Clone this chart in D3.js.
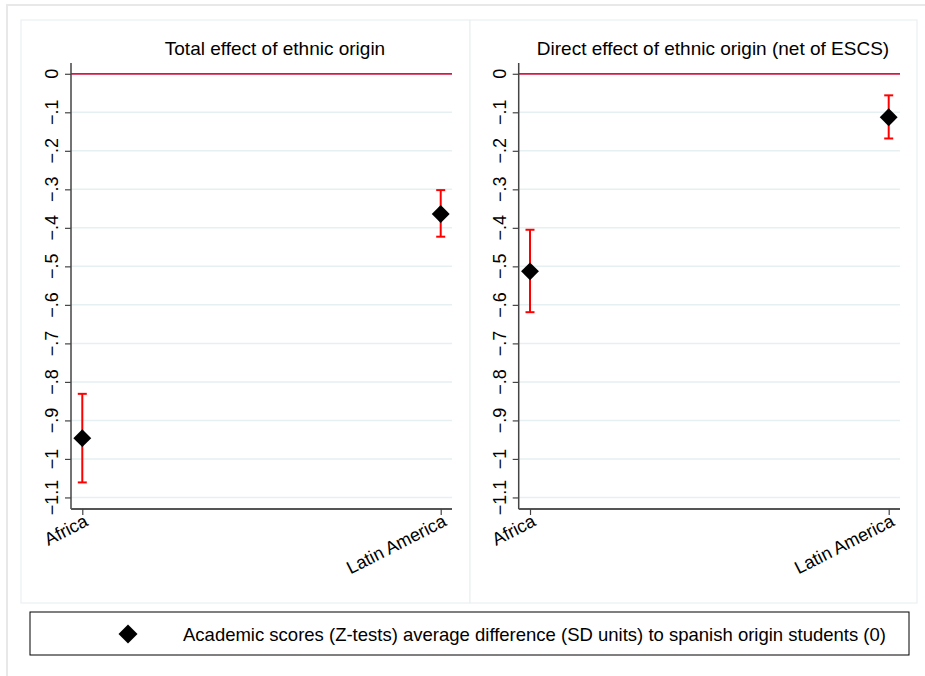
<!DOCTYPE html>
<html>
<head>
<meta charset="utf-8">
<script src="https://cdn.jsdelivr.net/npm/d3@7"></script>
<style>
  html, body { margin: 0; padding: 0; background: #ffffff; }
  svg { display: block; }
  text { font-family: "Liberation Sans", Arial, Helvetica, sans-serif; fill: #000; }
</style>
</head>
<body>
<svg id="chart" width="925" height="676"></svg>
<script>
// ---- data ----
const categories = ["Africa", "Latin America"];
const panelTitles = ["Total effect of ethnic origin", "Direct effect of ethnic origin (net of ESCS)"];
const totalEstimate = [-0.946, -0.364];
const totalLower = [-1.061, -0.423];
const totalUpper = [-0.831, -0.302];
const directEstimate = [-0.513, -0.113];
const directLower = [-0.619, -0.168];
const directUpper = [-0.405, -0.056];
const yTickValues = [0, -0.1, -0.2, -0.3, -0.4, -0.5, -0.6, -0.7, -0.8, -0.9, -1, -1.1];
const referenceValue = [0];
const legendLabel = "Academic scores (Z-tests) average difference (SD units) to spanish origin students (0)";

const panels = [
  { title: panelTitles[0], est: totalEstimate, lo: totalLower, hi: totalUpper },
  { title: panelTitles[1], est: directEstimate, lo: directLower, hi: directUpper }
];

// ---- layout ----
const layout = [
  { box: [21, 20, 449, 583], plotX: [71, 452], titleX: 275, labelX: 58 },
  { box: [470, 20, 447, 583], plotX: [518.7, 900], titleX: 713, labelX: 505.5 }
];
const plotTop = 63, plotBottom = 509;

const svg = d3.select("#chart");

// outer frame
svg.append("rect").attr("x", 7).attr("y", 5).attr("width", 940).attr("height", 700)
  .attr("fill", "#ffffff").attr("stroke", "#e8e8e8").attr("stroke-width", 2);

function fmt(v) {
  if (v === 0) return "0";
  let s = Math.abs(v).toString().replace(/^0/, "");
  return (v < 0 ? "\u2212" : "") + s;
}

panels.forEach((p, i) => {
  const L = layout[i];
  const g = svg.append("g");
  g.append("rect").attr("x", L.box[0]).attr("y", L.box[1]).attr("width", L.box[2]).attr("height", L.box[3])
    .attr("fill", "#ffffff").attr("stroke", "#eaf1f1").attr("stroke-width", 1.2);

  const y = d3.scaleLinear().domain([0.028, -1.13]).range([plotTop, plotBottom]);
  const x = d3.scalePoint().domain(categories).range(L.plotX).padding(0.0315);

  // grid lines
  g.append("g").selectAll("line").data(yTickValues.filter(v => v !== 0)).join("line")
    .attr("x1", L.plotX[0]).attr("x2", L.plotX[1])
    .attr("y1", d => y(d)).attr("y2", d => y(d))
    .attr("stroke", "#e6eff1").attr("stroke-width", 1.5);

  // reference line
  g.append("g").selectAll("line").data(referenceValue).join("line")
    .attr("x1", L.plotX[0]).attr("x2", L.plotX[1])
    .attr("y1", d => y(d)).attr("y2", d => y(d))
    .attr("stroke", "#d21a46").attr("stroke-width", 1.8);

  // y axis
  const yAxis = d3.axisLeft(y).tickValues(yTickValues).tickSize(6).tickFormat("");
  const ya = g.append("g").attr("transform", `translate(${L.plotX[0]},0)`).call(yAxis);
  ya.select(".domain").attr("d", `M0,${plotTop}V${plotBottom}`).attr("stroke", "#444").attr("stroke-width", 1.5);
  ya.selectAll(".tick line").attr("stroke", "#444").attr("stroke-width", 1.2);
  g.append("g").selectAll("text").data(yTickValues).join("text")
    .attr("transform", d => `translate(${L.labelX},${y(d)}) rotate(-90)`)
    .attr("text-anchor", "middle")
    .attr("font-size", 18)
    .text(d => fmt(d));

  // x axis
  const xAxis = d3.axisBottom(x).tickSize(6).tickFormat("");
  const xa = g.append("g").attr("transform", `translate(0,${plotBottom})`).call(xAxis);
  xa.select(".domain").attr("d", `M${L.plotX[0]},0H${L.plotX[1]}`).attr("stroke", "#555").attr("stroke-width", 2);
  xa.selectAll(".tick line").attr("stroke", "#444").attr("stroke-width", 1.2);
  g.append("g").selectAll("text").data(categories).join("text")
    .attr("transform", d => `translate(${x(d) + 7},${plotBottom + 16}) rotate(-27)`)
    .attr("text-anchor", "end")
    .attr("font-size", 18)
    .text(d => d);

  // title
  g.append("text").attr("x", L.titleX).attr("y", 55).attr("text-anchor", "middle")
    .attr("font-size", 19).text(p.title);

  // error bars
  const eb = g.append("g").selectAll("g").data(categories).join("g");
  eb.append("line").attr("x1", d => x(d)).attr("x2", d => x(d))
    .attr("y1", (d, j) => y(p.lo[j])).attr("y2", (d, j) => y(p.hi[j]))
    .attr("stroke", "#ff0000").attr("stroke-width", 2);
  eb.append("line").attr("x1", d => x(d) - 4.5).attr("x2", d => x(d) + 4.5)
    .attr("y1", (d, j) => y(p.lo[j])).attr("y2", (d, j) => y(p.lo[j]))
    .attr("stroke", "#ff0000").attr("stroke-width", 2);
  eb.append("line").attr("x1", d => x(d) - 4.5).attr("x2", d => x(d) + 4.5)
    .attr("y1", (d, j) => y(p.hi[j])).attr("y2", (d, j) => y(p.hi[j]))
    .attr("stroke", "#ff0000").attr("stroke-width", 2);

  // markers
  g.append("g").selectAll("path").data(categories).join("path")
    .attr("transform", (d, j) => `translate(${x(d)},${y(p.est[j])}) rotate(45)`)
    .attr("d", d3.symbol().type(d3.symbolSquare).size(160))
    .attr("fill", "#000");
});

// legend
const lg = svg.append("g");
lg.append("rect").attr("x", 30).attr("y", 612).attr("width", 879).attr("height", 43)
  .attr("fill", "#fff").attr("stroke", "#000").attr("stroke-width", 1);
lg.append("path").attr("transform", "translate(128,634) rotate(45)")
  .attr("d", d3.symbol().type(d3.symbolSquare).size(180)).attr("fill", "#000");
lg.append("text").attr("x", 183).attr("y", 641).attr("font-size", 18.5).text(legendLabel);
</script>
</body>
</html>
